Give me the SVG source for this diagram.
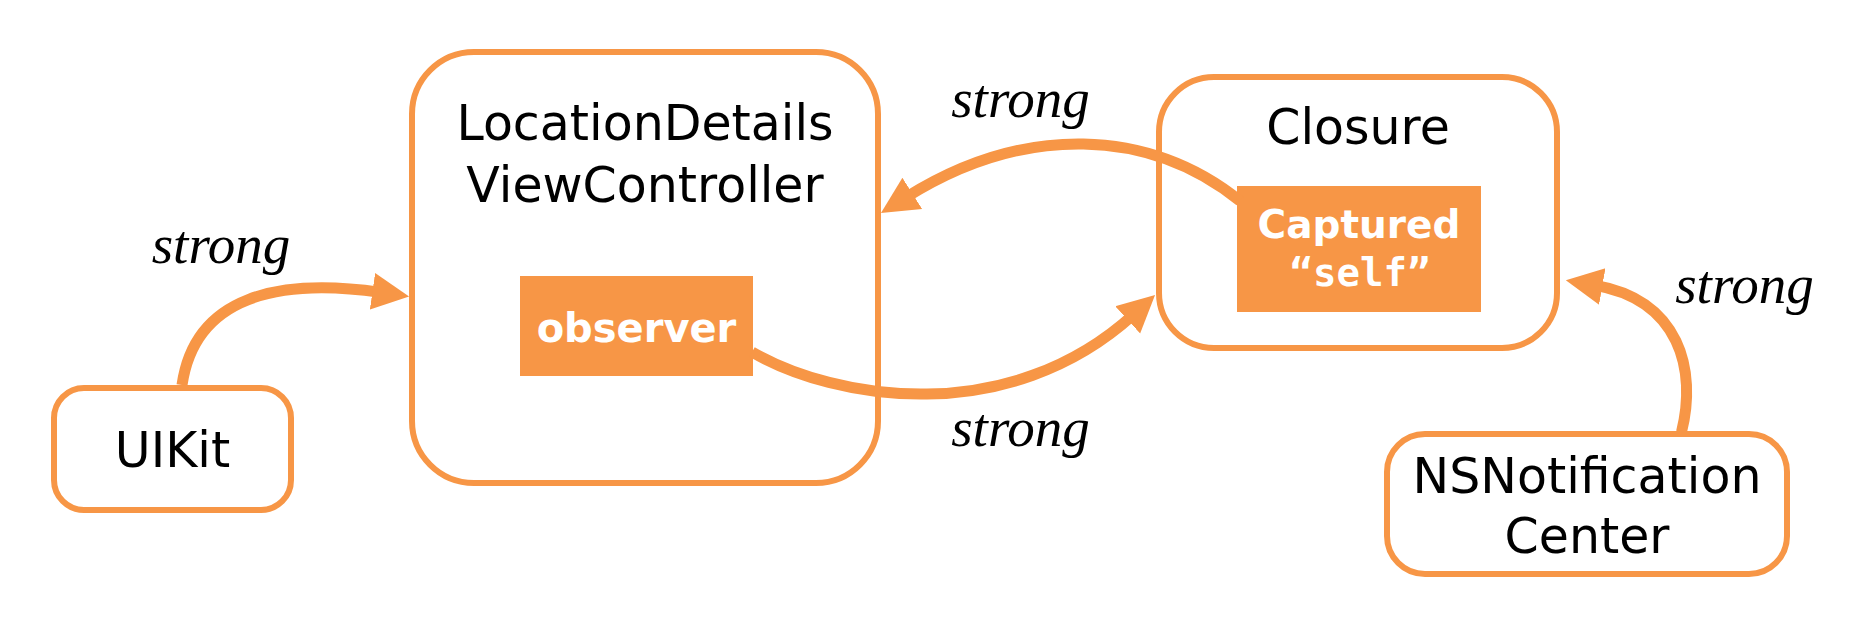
<svg xmlns="http://www.w3.org/2000/svg" width="1867" height="629" viewBox="0 0 1867 629">
<style>
.box{fill:#fff;stroke:#F79646;stroke-width:6}
.inner{fill:#F79646}
.lbl{font-family:"DejaVu Sans",Verdana,sans-serif;font-size:49px;fill:#000;text-anchor:middle}
.in{font-family:"DejaVu Sans",Verdana,sans-serif;font-weight:bold;font-size:40px;fill:#fff;text-anchor:middle}
.mono{font-family:"DejaVu Sans Mono","Liberation Mono",monospace;font-weight:bold;font-size:39px;fill:#fff;text-anchor:middle}
.edge{fill:none;stroke:#F79646;stroke-width:11;marker-end:url(#arr)}
.str{font-family:"Liberation Serif","Times New Roman",serif;font-style:italic;font-size:55px;fill:#000;text-anchor:middle}
</style>
<defs>
<marker id="arr" markerUnits="userSpaceOnUse" markerWidth="40" markerHeight="40" viewBox="0 0 40 40" refX="8" refY="20" orient="auto">
<path d="M0,1.5 L37,20 L0,38.5 Z" fill="#F79646"/>
</marker>
</defs>
<g id="uikit">
<rect class="box" x="54" y="388" width="237" height="122" rx="30"/>
<text class="lbl" x="172.5" y="467">UIKit</text>
</g>
<g id="vc">
<rect class="box" x="412" y="52" width="466" height="431" rx="62"/>
<text class="lbl" x="645" y="140">LocationDetails</text>
<text class="lbl" x="645" y="202">ViewController</text>
</g>
<g id="observer">
<rect class="inner" x="520" y="276" width="233" height="100"/>
<text class="in" x="636.5" y="342">observer</text>
</g>
<g id="closure">
<rect class="box" x="1159" y="77" width="398" height="271" rx="55"/>
<text class="lbl" x="1358" y="144">Closure</text>
</g>
<g id="captured">
<rect class="inner" x="1237" y="186" width="244" height="126"/>
<text class="in" x="1359" y="238" style="font-size:39px">Captured</text>
<text class="mono" x="1360" y="286">“self”</text>
</g>
<g id="nsnc">
<rect class="box" x="1387" y="434" width="400" height="140" rx="38"/>
<text class="lbl" x="1587" y="493">NSNotification</text>
<text class="lbl" x="1587" y="553">Center</text>
</g>
<g id="connectors">
<path class="edge" d="M182,385 C195,295 280,278 380.4,292.4"/>
<path class="edge" d="M752,352 C835,400 1008,428.7 1133.6,314.5"/>
<path class="edge" d="M1240,201 C1150,128 1024,123 905.5,197.6"/>
<path class="edge" d="M1681.5,432 C1697,370 1680,300 1594.4,285.1"/>
</g>
<g id="labels">
<text class="str" x="221" y="263">strong</text>
<text class="str" x="1020.5" y="117">strong</text>
<text class="str" x="1020.5" y="446">strong</text>
<text class="str" x="1744.5" y="303">strong</text>
</g>
</svg>
